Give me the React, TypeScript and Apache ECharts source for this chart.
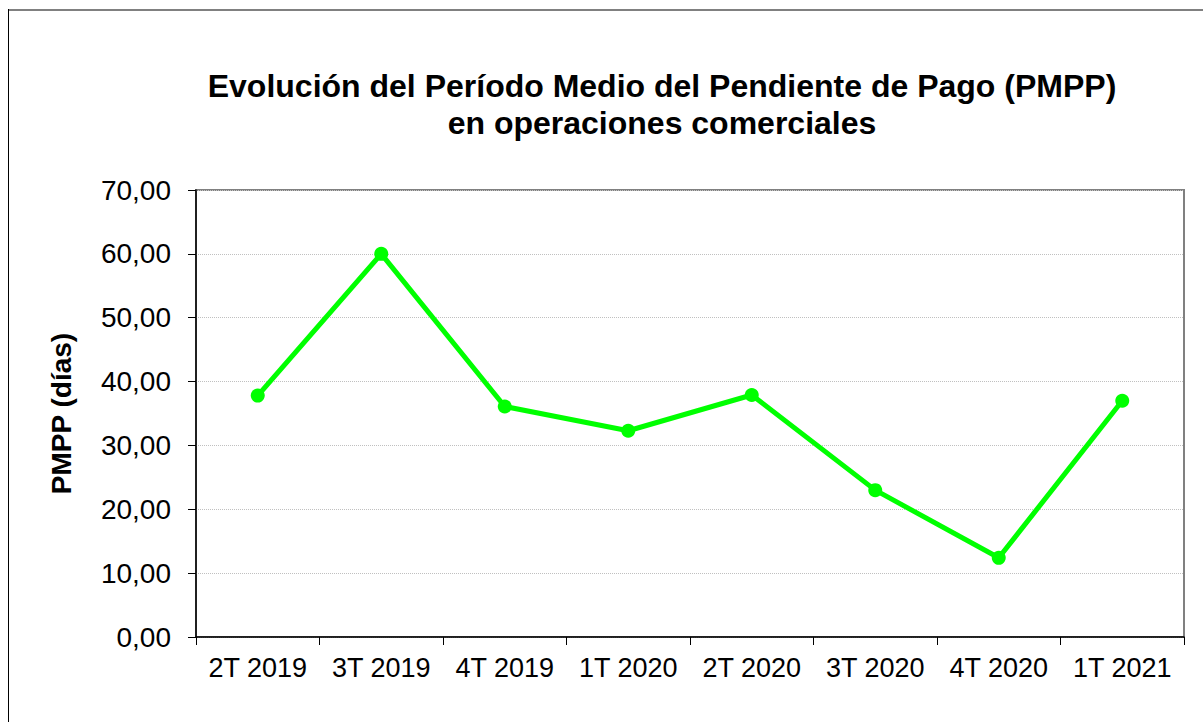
import React, { useEffect, useRef } from "react";
import * as echarts from "echarts";

const categories = ["2T 2019", "3T 2019", "4T 2019", "1T 2020", "2T 2020", "3T 2020", "4T 2020", "1T 2021"];
const pmppValues = [37.8, 60.0, 36.1, 32.3, 37.9, 23.0, 12.4, 37.0];
const titleLines = ["Evolución del Período Medio del Pendiente de Pago (PMPP)", "en operaciones comerciales"];
const yAxisName = "PMPP (días)";

export default function App() {
  const ref = useRef<HTMLDivElement>(null);
  useEffect(() => {
    if (!ref.current) return;
    const chart = echarts.init(ref.current, null, { renderer: "svg" });
    const font = "Liberation Sans, Arial, sans-serif";
    chart.setOption({
      animation: false,
      backgroundColor: "#ffffff",
      title: {
        text: titleLines.join("\n"),
        left: 657,
        top: 62,
        textAlign: "center",
        textStyle: { fontFamily: font, fontSize: 32, fontWeight: "bold", color: "#000", lineHeight: 37 },
      },
      graphic: [
        { type: "line", shape: { x1: 8, y1: 10, x2: 1203, y2: 10 }, style: { stroke: "#808080", lineWidth: 2 } },
        { type: "line", shape: { x1: 8.5, y1: 9, x2: 8.5, y2: 722 }, style: { stroke: "#000", lineWidth: 1 } },
      ],
      grid: {
        left: 196,
        top: 190,
        width: 988,
        height: 447,
        show: true,
        borderColor: "#808080",
        borderWidth: 2,
        backgroundColor: "transparent",
      },
      xAxis: {
        type: "category",
        data: categories,
        boundaryGap: true,
        axisLine: { lineStyle: { color: "#000", width: 1.5 } },
        axisTick: { show: true, length: 8, inside: false, interval: 0, lineStyle: { color: "#000" } },
        axisLabel: { fontFamily: font, fontSize: 27, color: "#000", margin: 17, interval: 0, hideOverlap: false },
        splitLine: { show: false },
      },
      yAxis: {
        type: "value",
        min: 0,
        max: 70,
        interval: 10,
        name: yAxisName,
        nameLocation: "middle",
        nameGap: 121,
        nameTextStyle: { fontFamily: font, fontSize: 28, fontWeight: "bold", color: "#000" },
        axisLine: { show: true, lineStyle: { color: "#000", width: 1.5 } },
        axisTick: { show: true, length: 8, inside: false, lineStyle: { color: "#000" } },
        axisLabel: {
          fontFamily: font,
          fontSize: 28,
          color: "#000",
          margin: 25,
          formatter: (v: number) => v.toFixed(2).replace(".", ","),
        },
        splitLine: { show: true, lineStyle: { color: "#c0c0c0", type: "dotted", width: 1 } },
      },
      series: [
        {
          type: "line",
          data: pmppValues,
          symbol: "circle",
          symbolSize: 14,
          lineStyle: { color: "#00ff00", width: 5 },
          itemStyle: { color: "#00ff00" },
        },
      ],
    });
    return () => chart.dispose();
  }, []);
  return <div ref={ref} style={{ position: "absolute", left: 0, top: 0, width: 1203, height: 722 }} />;
}
